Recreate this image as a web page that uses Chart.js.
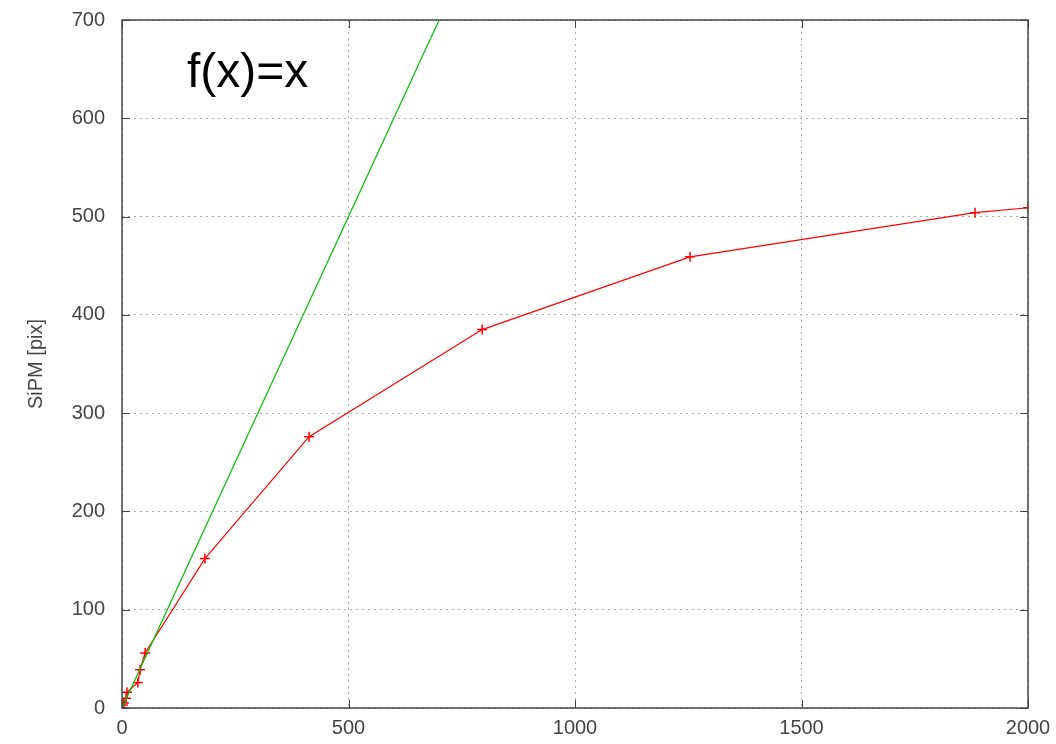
<!DOCTYPE html>
<html>
<head>
<meta charset="utf-8">
<script src="https://cdn.jsdelivr.net/npm/chart.js@4.4.1/dist/chart.umd.min.js"></script>
<style>
  html, body { margin: 0; padding: 0; background: #fff; }
  #wrap { width: 1056px; height: 744px; }
</style>
</head>
<body>
<div id="wrap"><canvas id="c" width="1056" height="744"></canvas></div>
<script>
// measured points (red)
const xVals = [0, 2, 4, 9, 11, 35, 40, 51, 183, 413, 795, 1254, 1883, 2000];
const yVals = [0, 3, 5, 10, 16, 26, 39, 56, 152, 276, 385, 459, 504, 509];
// reference line f(x)=x
const refX = [0, 700];
const refY = [0, 700];

const xTicks = [0, 500, 1000, 1500, 2000];
const yTicks = [0, 100, 200, 300, 400, 500, 600, 700];

const red = "#ff0000";
const green = "#00c000";
const labelFont = { family: "'Liberation Sans', Arial, sans-serif", size: 20 };

const frame = {
  id: "frame",
  afterDraw(chart) {
    const ctx = chart.ctx;
    const a = chart.chartArea;
    const xs = chart.scales.x, ys = chart.scales.y;
    ctx.save();
    ctx.strokeStyle = "#444";
    ctx.lineWidth = 1.5;
    ctx.strokeRect(a.left, a.top, a.right - a.left, a.bottom - a.top);
    // inward ticks
    ctx.lineWidth = 1;
    ctx.beginPath();
    for (const v of xTicks) {
      const p = Math.round(xs.getPixelForValue(v)) + 0.5;
      ctx.moveTo(p, a.bottom); ctx.lineTo(p, a.bottom - 8);
      ctx.moveTo(p, a.top); ctx.lineTo(p, a.top + 8);
    }
    for (const v of yTicks) {
      const p = Math.round(ys.getPixelForValue(v)) + 0.5;
      ctx.moveTo(a.left, p); ctx.lineTo(a.left + 8, p);
      ctx.moveTo(a.right, p); ctx.lineTo(a.right - 8, p);
    }
    ctx.stroke();
    // big annotation
    ctx.fillStyle = "#000";
    ctx.font = "48px 'Liberation Sans', Arial, sans-serif";
    ctx.textBaseline = "alphabetic";
    ctx.fillText("f(x)=x", 187, 87);
    ctx.restore();
  }
};

new Chart(document.getElementById("c"), {
  type: "line",
  plugins: [frame],
  data: {
    datasets: [
      {
        data: refX.map((x, i) => ({ x: x, y: refY[i] })),
        borderColor: green,
        borderWidth: 1.2,
        pointRadius: 0,
        tension: 0,
      },
      {
        data: xVals.map((x, i) => ({ x: x, y: yVals[i] })),
        borderColor: red,
        borderWidth: 1.2,
        pointStyle: "cross",
        pointRadius: 5,
        pointBorderColor: red,
        pointBorderWidth: 1.5,
        tension: 0,
      },
    ],
  },
  options: {
    responsive: false,
    animation: false,
    layout: { padding: { top: 20, right: 28, left: 24, bottom: 0 } },
    plugins: { legend: { display: false }, tooltip: { enabled: false } },
    scales: {
      x: {
        type: "linear",
        min: 0,
        max: 2000,
        afterBuildTicks: (s) => { s.ticks = xTicks.map(v => ({ value: v })); },
        afterFit: (s) => { s.height = 36; s.paddingRight = 0; s.paddingLeft = 0; },
        grid: { color: "#aaa", drawTicks: false, lineWidth: 1 },
        border: { display: false, dash: [2, 4] },
        ticks: { color: "#444", font: labelFont, padding: 8, maxRotation: 0, callback: (v) => String(v) },
      },
      y: {
        type: "linear",
        min: 0,
        max: 700,
        afterBuildTicks: (s) => { s.ticks = yTicks.map(v => ({ value: v })); },
        afterFit: (s) => { s.width = 98; s.paddingTop = 0; s.paddingBottom = 0; },
        grid: { color: "#aaa", drawTicks: false, lineWidth: 1 },
        border: { display: false, dash: [2, 4] },
        ticks: { color: "#444", font: labelFont, padding: 17, callback: (v) => String(v) },
        title: { display: true, text: "SiPM [pix]", color: "#444", font: { family: labelFont.family, size: 20 }, padding: { top: 0, bottom: 6 } },
      },
    },
  },
});
</script>
</body>
</html>
